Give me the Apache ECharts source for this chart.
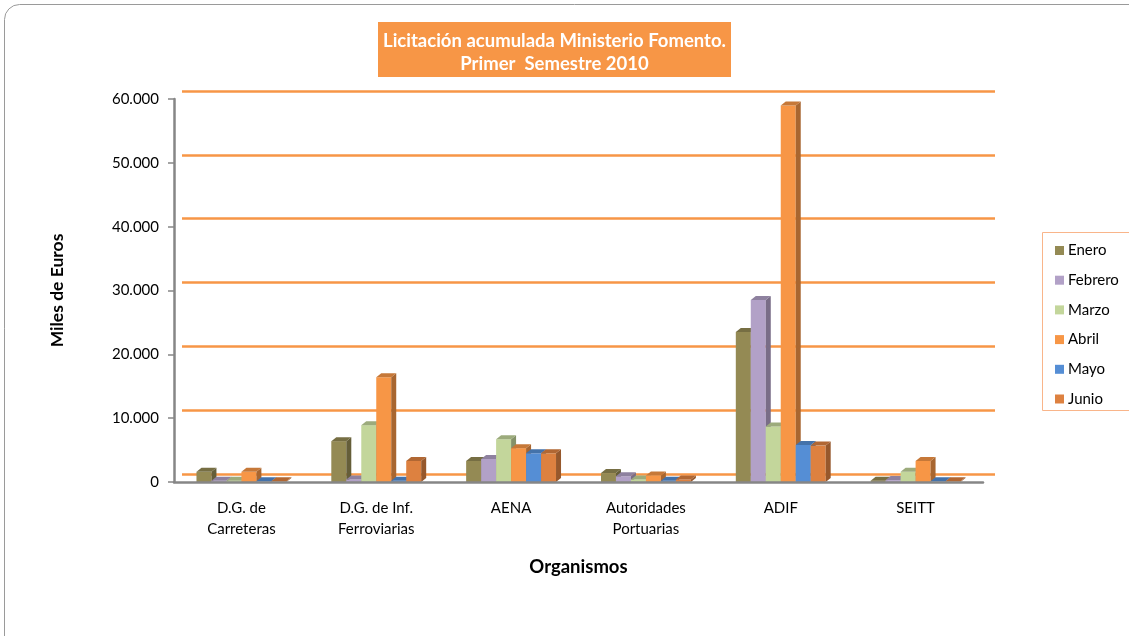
<!DOCTYPE html>
<html><head><meta charset="utf-8">
<script src="https://cdn.jsdelivr.net/npm/echarts@6/dist/echarts.min.js"></script>
<style>html,body{margin:0;padding:0;background:#fff}#c{width:1129px;height:636px}</style>
</head><body><div id="c"></div>
<script>
var categories = ['D.G. de\nCarreteras', 'D.G. de Inf.\nFerroviarias', 'AENA', 'Autoridades\nPortuarias', 'ADIF', 'SEITT'];
var seriesNames = ['Enero', 'Febrero', 'Marzo', 'Abril', 'Mayo', 'Junio'];
var enero   = [1600, 6400, 3300, 1400, 23500, 200];
var febrero = [200, 400, 3600, 900, 28500, 300];
var marzo   = [200, 8900, 6700, 400, 8700, 1600];
var abril   = [1600, 16400, 5300, 1000, 59000, 3300];
var mayo    = [100, 200, 4500, 200, 5800, 100];
var junio   = [100, 3300, 4500, 400, 5700, 100];
var colors = ['#948A54', '#B2A1C7', '#C3D69B', '#F79646', '#558ED5', '#DD8140'];
var yTicks = [0, 10000, 20000, 30000, 40000, 50000, 60000];

var allData = [enero, febrero, marzo, abril, mayo, junio];
var DX = 5, DY = 4;

function shade(hex, f) {
  var n = parseInt(hex.slice(1), 16);
  var r = Math.round(((n >> 16) & 255) * f), g = Math.round(((n >> 8) & 255) * f), b = Math.round((n & 255) * f);
  return 'rgb(' + r + ',' + g + ',' + b + ')';
}

function makeRender(idx, color) {
  var side = shade(color, 0.68);
  var topC = shade(color, 0.8);
  return function (params, api) {
    var cat = api.value(0), v = api.value(1);
    var base = api.coord([cat, 0]);
    var top = api.coord([cat, v]);
    var band = api.size([1, 0])[0];
    var w = band / 9;
    var x0 = base[0] - 3 * w + idx * w;
    var x1 = x0 + w;
    var yb = base[1], yt = top[1];
    return {
      type: 'group',
      children: [
        { type: 'rect', shape: { x: x0, y: yt, width: w, height: yb - yt }, style: { fill: color } },
        { type: 'polygon', shape: { points: [[x1, yt], [x1 + DX, yt - DY], [x1 + DX, yb - DY], [x1, yb]] }, style: { fill: side } },
        { type: 'polygon', shape: { points: [[x0, yt], [x0 + DX, yt - DY], [x1 + DX, yt - DY], [x1, yt]] }, style: { fill: topC } }
      ]
    };
  };
}

var series = seriesNames.map(function (name, i) {
  return {
    name: name,
    type: 'custom',
    xAxisIndex: 0, yAxisIndex: 0,
    itemStyle: { color: colors[i] },
    renderItem: makeRender(i, colors[i]),
    encode: { x: 0, y: 1 },
    data: allData[i].map(function (v, k) { return [k, v]; }),
    z: 3
  };
});

var chart = echarts.init(document.getElementById('c'), null, { renderer: 'canvas' });
var fontF = 'Lato, "Open Sans", sans-serif';
chart.setOption({
  animation: false,
  backgroundColor: '#fff',
  graphic: [
    { type: 'rect', shape: { x: 4.5, y: 4.5, width: 1140, height: 680, r: 15 }, style: { fill: 'none', stroke: '#9a9a9a', lineWidth: 1 }, z: -10 },
    { type: 'rect', shape: { x: 378, y: 22, width: 353, height: 55 }, style: { fill: '#F79646' }, z: 1 },
    { type: 'text', x: 554.5, y: 52.5, style: { text: 'Licitación acumulada Ministerio Fomento.\nPrimer  Semestre 2010', fill: '#fff', font: 'bold 18.5px ' + fontF, textAlign: 'center', textVerticalAlign: 'middle', lineHeight: 23 }, z: 2 },
    { type: 'rect', shape: { x: 1042.5, y: 232.5, width: 100, height: 178 }, style: { fill: 'none', stroke: '#F9B58A', lineWidth: 1 }, z: 1 }
  ],
  legend: {
    data: seriesNames,
    orient: 'vertical',
    left: 1050, top: 238,
    itemWidth: 9, itemHeight: 9,
    itemGap: 14.7,
    icon: 'rect',
    textStyle: { fontFamily: fontF, fontSize: 15, color: '#000', padding: [0, 0, 0, -1] }
  },
  grid: [
    { left: 174, right: 146, top: 99, bottom: 154 },
    { left: 182, right: 134, top: 91, bottom: 162 }
  ],
  xAxis: [
    {
      type: 'category', gridIndex: 0, data: categories,
      boundaryGap: true,
      axisLine: { show: true, lineStyle: { color: '#868686', width: 2.5 } },
      axisTick: { show: false },
      axisLabel: { fontFamily: fontF, fontSize: 15, color: '#000', lineHeight: 21, margin: 16 },
      name: 'Organismos', nameLocation: 'middle', nameGap: 76,
      nameTextStyle: { fontFamily: fontF, fontSize: 18.5, fontWeight: 'bold', color: '#000' },
      z: 5
    },
    {
      type: 'category', gridIndex: 1, data: categories,
      axisLine: { show: false }, axisTick: { show: false }, axisLabel: { show: false }
    }
  ],
  yAxis: [
    {
      type: 'value', gridIndex: 0, min: 0, max: 60000, interval: 10000,
      axisLine: { show: true, lineStyle: { color: '#868686', width: 2.5 } },
      axisTick: { show: true, length: 6, lineStyle: { color: '#868686', width: 1.5 } },
      splitLine: { show: false },
      axisLabel: {
        fontFamily: fontF, fontSize: 15, color: '#000', margin: 15,
        formatter: function (v) { return v === 0 ? '0' : String(v).replace(/\B(?=(\d{3})+(?!\d))/g, '.'); }
      },
      name: 'Miles de Euros', nameLocation: 'middle', nameGap: 108, nameRotate: 90,
      nameTextStyle: { fontFamily: fontF, fontSize: 17.5, fontWeight: 'bold', color: '#000' },
      z: 5
    },
    {
      type: 'value', gridIndex: 1, min: 0, max: 60000, interval: 10000,
      axisLine: { show: false }, axisTick: { show: false }, axisLabel: { show: false },
      splitLine: { show: true, lineStyle: { color: '#F79646', width: 2.5 } }
    }
  ],
  series: series
});
</script>
</body></html>
